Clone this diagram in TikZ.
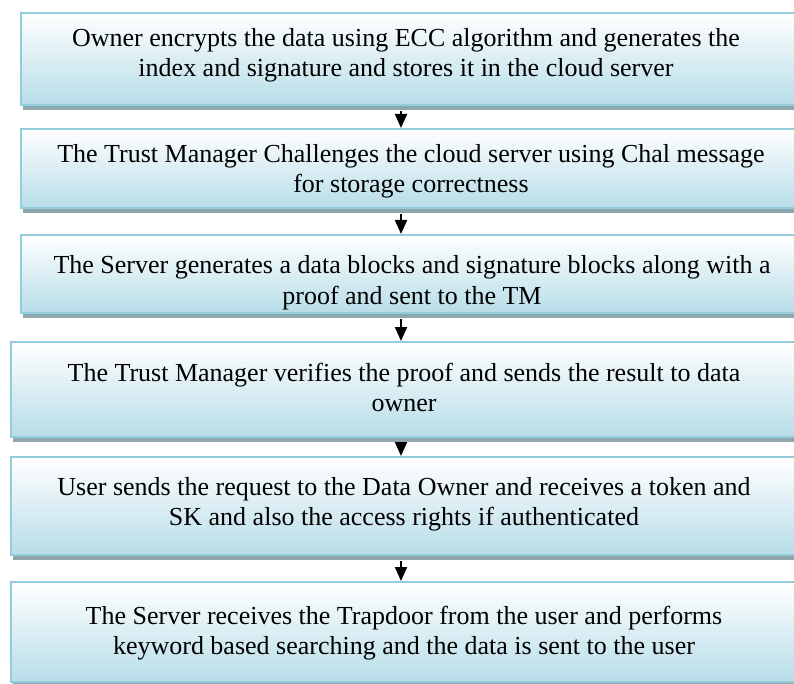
\documentclass[tikz,border=0pt]{standalone}
\usepackage{fontspec}
\setmainfont{Liberation Serif}
\usetikzlibrary{arrows.meta,shadows}
\definecolor{boxblue}{RGB}{183,221,232}
\definecolor{boxedge}{RGB}{146,205,221}
\definecolor{boxshadow}{RGB}{143,166,170}

\tikzset{
  stepbox/.style={rectangle, draw=boxedge, line width=2pt, top color=white, bottom color=boxblue,
    anchor=north west, minimum width=790pt, inner sep=0pt,
    drop shadow={shadow xshift=2pt, shadow yshift=-5pt, fill=boxshadow, opacity=1}},
  steptext/.style={align=center, font=\fontsize{26}{30}\selectfont, inner sep=0pt},
  flow/.style={line width=2pt, -{Triangle[width=12pt,length=14pt]}}
}

\begin{document}
\begin{tikzpicture}[x=1pt, y=-1pt]
    \clip (0,0) rectangle (794,684);
    \fill[white] (0,0) rectangle (794,684);

    % Steps
    \node[stepbox, minimum height=92pt] (own) at (20,12) {};
    \node[stepbox, minimum height=79pt] (chal) at (20,128) {};
    \node[stepbox, minimum height=78pt] (proof) at (20,234) {};
    \node[stepbox, minimum height=95pt] (verify) at (10,341) {};
    \node[stepbox, minimum height=98pt] (request) at (10,456) {};
    \node[stepbox, minimum height=100pt] (search) at (10,581) {};

    % Texts
    \node[steptext] (owntxt) at (406,56) {\strut Owner encrypts the data using ECC algorithm and generates the\\index and signature and stores it in the cloud server\strut};
    \node[steptext] (chaltxt) at (411,172) {\strut The Trust Manager Challenges the cloud server using Chal message\\for storage correctness\strut};
    \node[steptext] (prooftxt) at (412,283) {\strut The Server generates a data blocks and signature blocks along with a\\proof and sent to the TM\strut};
    \node[steptext] (verifytxt) at (404,390) {\strut The Trust Manager verifies the proof and sends the result to data\\owner\strut};
    \node[steptext] (requesttxt) at (404,504) {\strut User sends the request to the Data Owner and receives a token and\\SK and also the access rights if authenticated\strut};
    \node[steptext] (searchtxt) at (404,633) {\strut The Server receives the Trapdoor from the user and performs\\keyword based searching and the data is sent to the user\strut};

    % Flows
    \coordinate (spine) at (401,0);
    \draw[flow] ([yshift=-5pt]own.south -| spine) -- (chal.north -| spine);
    \draw[flow] ([yshift=-5pt]chal.south -| spine) -- (proof.north -| spine);
    \draw[flow] ([yshift=-5pt]proof.south -| spine) -- (verify.north -| spine);
    \draw[flow] ([yshift=-5pt]verify.south -| spine) -- (request.north -| spine);
    \draw[flow] ([yshift=-5pt]request.south -| spine) -- (search.north -| spine);
\end{tikzpicture}
\end{document}
